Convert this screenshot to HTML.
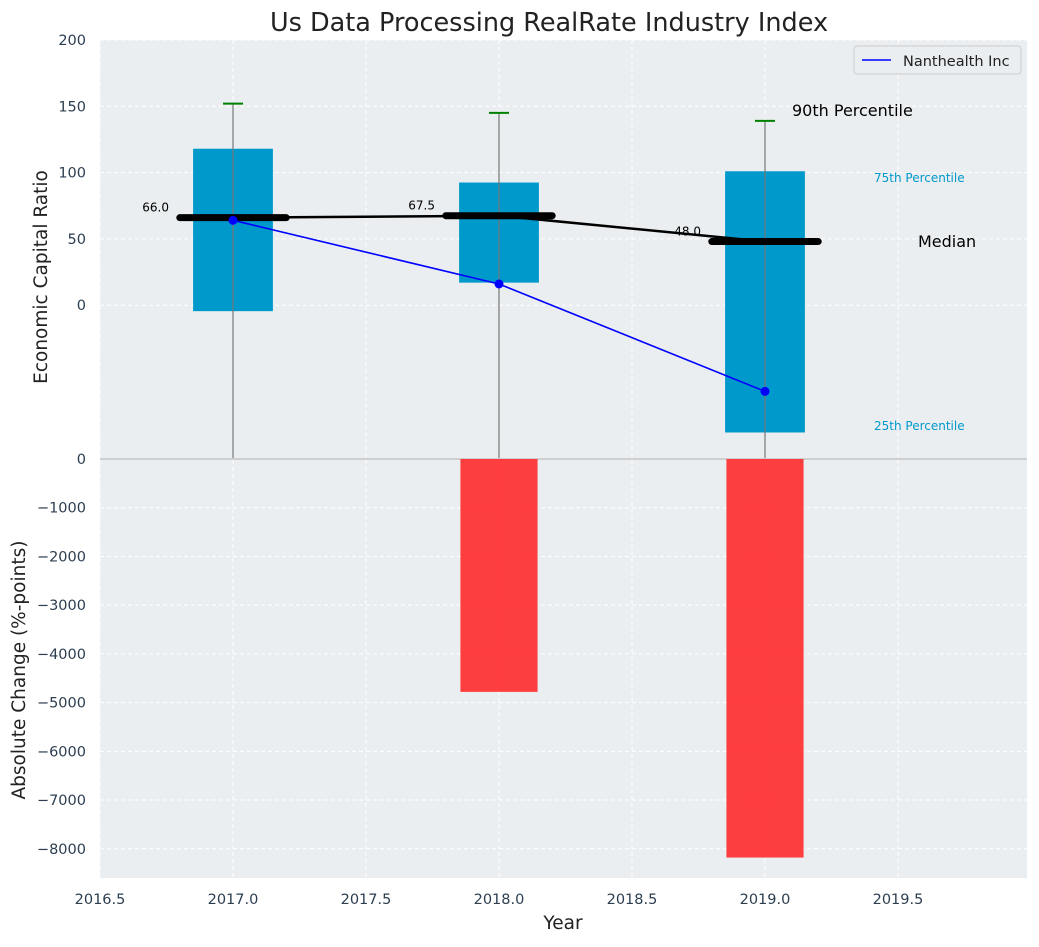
<!DOCTYPE html>
<html><head><meta charset="utf-8"><style>
body{margin:0;background:#fff;font-family:"Liberation Sans","DejaVu Sans",sans-serif}
text{font-family:"DejaVu Sans","Liberation Sans",sans-serif}
</style></head><body>
<svg id="chart" width="1039" height="942" xmlns="http://www.w3.org/2000/svg"></svg>
<script>
const years=[2017,2018,2019];
const p90=[152,145,139];
const p75=[118,92.5,101];
const p25=[-4.5,17,-96];
const medians=[66,67.5,48];
const company=[64,16,-65];
const changes=[0,-4780,-8180];
const xTicks=[2016.5,2017,2017.5,2018,2018.5,2019,2019.5];
const yTopTicks=[0,50,100,150,200];
const yBotTicks=[0,-1000,-2000,-3000,-4000,-5000,-6000,-7000,-8000];

const svg=document.getElementById('chart');
const NS='http://www.w3.org/2000/svg';
const L=100,R=1027,T=40,M=459,B=878;
const X=v=>L+(v-2016.5)*(R-L)/(2019.985-2016.5);
const YT=v=>T+(200-v)*(M-T)/(200+116);
const YB=v=>M+(0-v)*(B-M)/8600;
function el(tag,a,txt){const e=document.createElementNS(NS,tag);for(const k in a)e.setAttribute(k,a[k]);if(txt!==undefined)e.textContent=txt;svg.appendChild(e);return e;}
let e;
e=el('rect',{x:L,y:T,width:R-L,height:B-T,fill:'#eaeef0'});

xTicks.forEach(t=>{e=el('line',{x1:X(t),x2:X(t),y1:T,y2:B,stroke:'#fff','stroke-dasharray':'4,3','stroke-width':1});

e=el('text',{x:X(t),y:904,'text-anchor':'middle','font-size':14.5,fill:'#2c3e50'},t.toFixed(1));
});
yTopTicks.forEach(t=>{e=el('line',{x1:L,x2:R,y1:YT(t),y2:YT(t),stroke:'#fff','stroke-dasharray':'4,3'});

e=el('text',{x:86,y:YT(t)+5,'text-anchor':'end','font-size':14.5,fill:'#2c3e50'},t);
});
yBotTicks.forEach(t=>{e=el('line',{x1:L,x2:R,y1:YB(t),y2:YB(t),stroke:'#fff','stroke-dasharray':'4,3'});

e=el('text',{x:86,y:YB(t)+5,'text-anchor':'end','font-size':14.5,fill:'#2c3e50'},t===0?'0':'\u2212'+(-t));
});
e=el('line',{x1:L,x2:R,y1:M,y2:M,stroke:'#b0b0b0','stroke-width':1});

years.forEach((y,i)=>{
 e=el('rect',{x:X(y-0.15),y:YT(p75[i]),width:X(y+0.15)-X(y-0.15),height:YT(p25[i])-YT(p75[i]),fill:'#0099cc'});
 
 e=el('line',{x1:X(y),x2:X(y),y1:YT(p90[i]),y2:M-1,stroke:'#777','stroke-width':1.2});
 
 e=el('line',{x1:X(y)-10,x2:X(y)+10,y1:YT(p90[i]),y2:YT(p90[i]),stroke:'green','stroke-width':2});
 
 if(changes[i]<0){e=el('rect',{x:X(y-0.145),y:YB(0),width:X(y+0.145)-X(y-0.145),height:YB(changes[i])-YB(0),fill:'#ff2a2a','fill-opacity':0.9});
 }
});
e=el('polyline',{points:years.map((y,i)=>X(y)+','+YT(medians[i])).join(' '),fill:'none',stroke:'#000','stroke-width':2.5});

years.forEach((y,i)=>{
 e=el('line',{x1:X(y-0.2),x2:X(y+0.2),y1:YT(medians[i]),y2:YT(medians[i]),stroke:'#000','stroke-width':7,'stroke-linecap':'round'});
 
 e=el('text',{x:X(y)-64,y:YT(medians[i])-6,'text-anchor':'end','font-size':12,fill:'#000'},medians[i].toFixed(1));
 
});
e=el('polyline',{points:years.map((y,i)=>X(y)+','+YT(company[i])).join(' '),fill:'none',stroke:'blue','stroke-width':1.6});

years.forEach((y,i)=>{e=el('circle',{cx:X(y),cy:YT(company[i]),r:4.5,fill:'blue'});
});
e=el('text',{x:792,y:116,'font-size':16,fill:'#000'},'90th Percentile');
e=el('text',{x:874,y:182,'font-size':12,fill:'#0099cc'},'75th Percentile');
e=el('text',{x:918,y:247,'font-size':16,fill:'#000'},'Median');
e=el('text',{x:874,y:430,'font-size':12,fill:'#0099cc'},'25th Percentile');
e=el('rect',{x:854,y:46,width:167,height:28,rx:3,fill:'#eaeef0',stroke:'#ccc'});
e=el('line',{x1:862,x2:891,y1:60,y2:60,stroke:'blue','stroke-width':1.6});
e=el('text',{x:903,y:66,'font-size':14.5,fill:'#222'},'Nanthealth Inc');
e=el('text',{x:549,y:31,'text-anchor':'middle','font-size':25.5,fill:'#222'},'Us Data Processing RealRate Industry Index');
e=el('text',{x:563,y:929,'text-anchor':'middle','font-size':18.5,fill:'#222'},'Year');
e=el('text',{x:0,y:0,'text-anchor':'middle','font-size':18.5,fill:'#222',transform:'translate(47,277) rotate(-90)'},'Economic Capital Ratio');
e=el('text',{x:0,y:0,'text-anchor':'middle','font-size':18.5,fill:'#222',transform:'translate(25,670) rotate(-90)'},'Absolute Change (%-points)');
</script>
</body></html>
